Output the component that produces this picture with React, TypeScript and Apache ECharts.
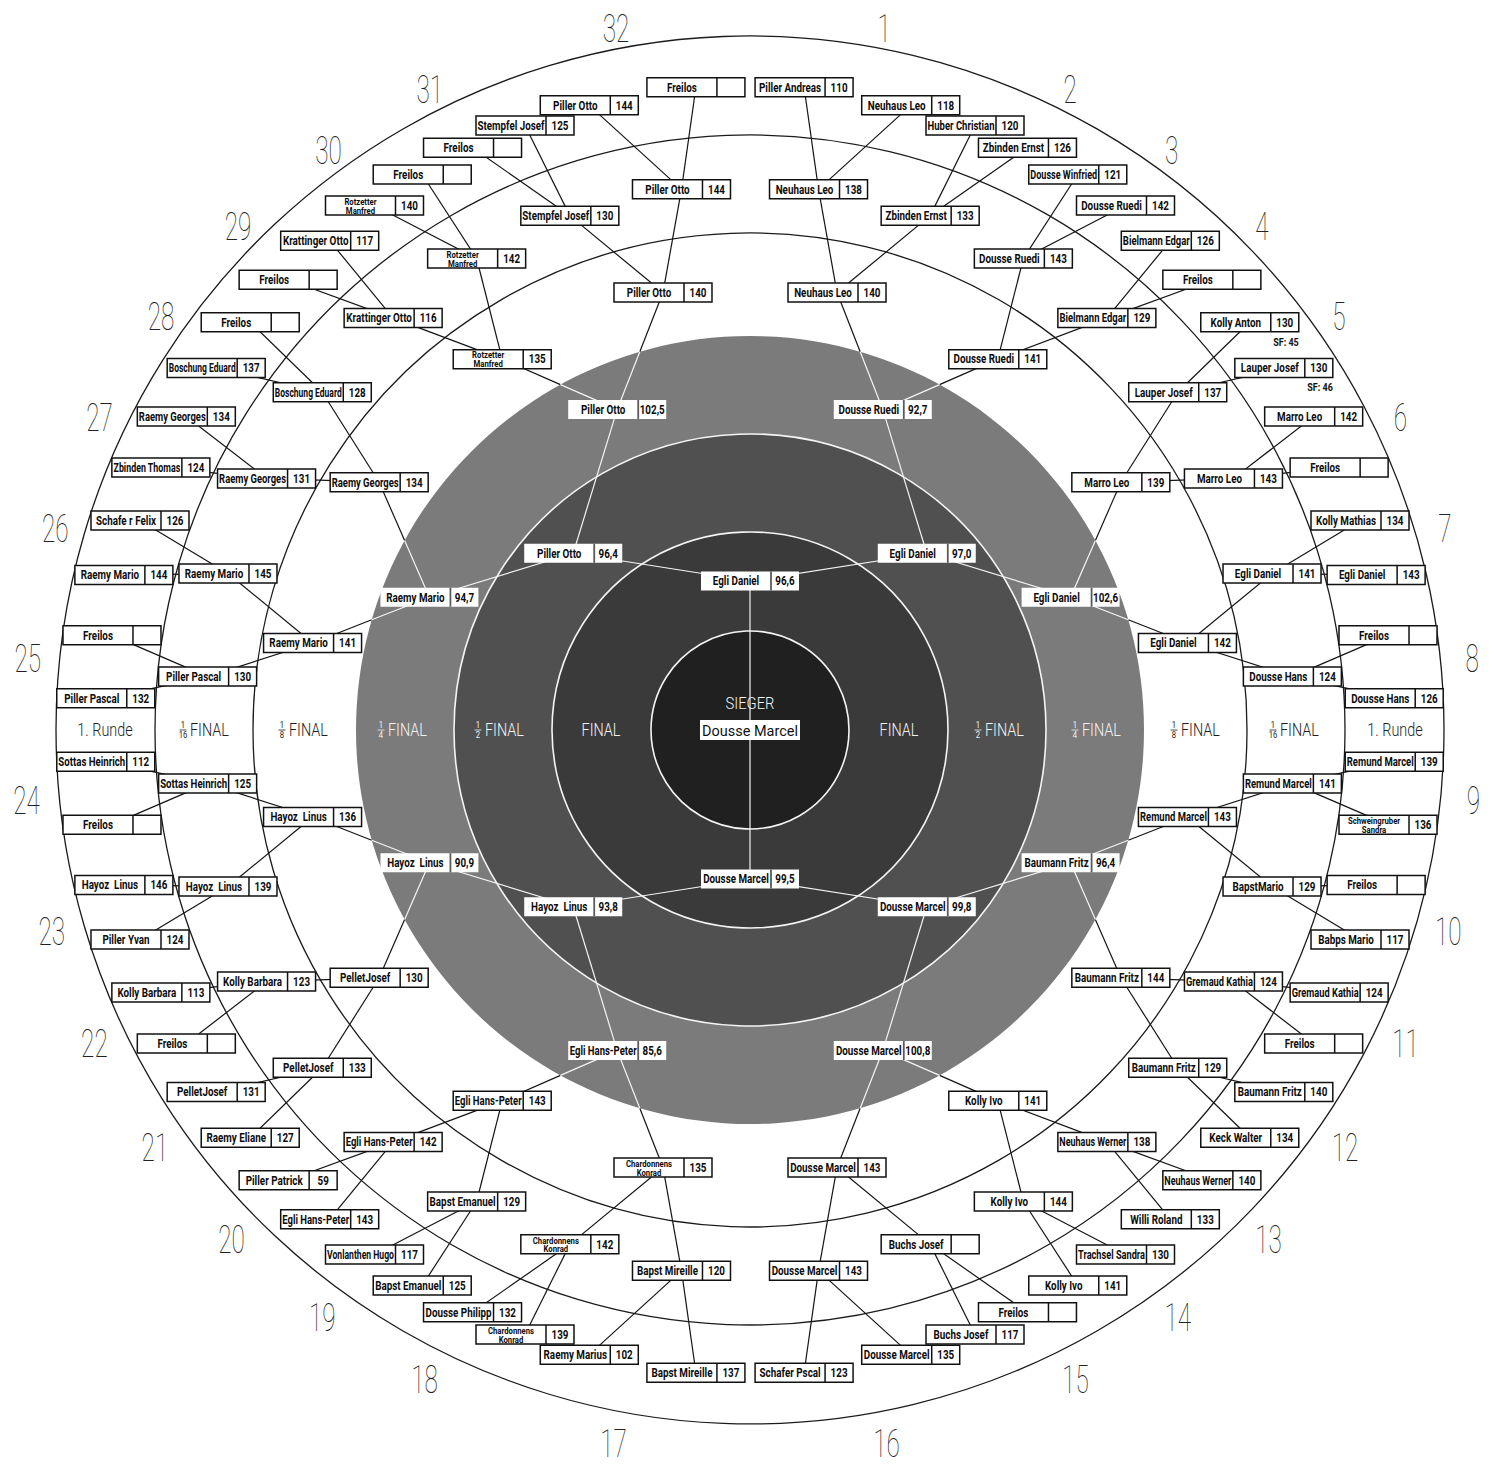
import React, { useEffect, useRef } from 'react';
import * as echarts from 'echarts';

// ---------------- DATA (bracket order: clockwise, starting at 9 o'clock) ----------------
const R1_NAMES = [
  'Piller Pascal', 'Freilos', 'Raemy Mario', 'Schafe r Felix', 'Zbinden Thomas', 'Raemy Georges', 'Boschung Eduard', 'Freilos',
  'Freilos', 'Krattinger Otto', 'Rotzetter\nManfred', 'Freilos', 'Freilos', 'Stempfel Josef', 'Piller Otto', 'Freilos',
  'Piller Andreas', 'Neuhaus Leo', 'Huber Christian', 'Zbinden Ernst', 'Dousse Winfried', 'Dousse Ruedi', 'Bielmann Edgar', 'Freilos',
  'Kolly Anton', 'Lauper Josef', 'Marro Leo', 'Freilos', 'Kolly Mathias', 'Egli Daniel', 'Freilos', 'Dousse Hans',
  'Remund Marcel', 'Schweingruber\nSandra', 'Freilos', 'Babps Mario', 'Gremaud Kathia', 'Freilos', 'Baumann Fritz', 'Keck Walter',
  'Neuhaus Werner', 'Willi Roland', 'Trachsel Sandra', 'Kolly Ivo', 'Freilos', 'Buchs Josef', 'Dousse Marcel', 'Schafer Pscal',
  'Bapst Mireille', 'Raemy Marius', 'Chardonnens\nKonrad', 'Dousse Philipp', 'Bapst Emanuel', 'Vonlanthen Hugo', 'Egli Hans-Peter', 'Piller Patrick',
  'Raemy Eliane', 'PelletJosef', 'Freilos', 'Kolly Barbara', 'Piller Yvan', 'Hayoz  Linus', 'Freilos', 'Sottas Heinrich',
];
const R1_SCORES = [
  '132', '', '144', '126', '124', '134', '137', '',
  '', '117', '140', '', '', '125', '144', '',
  '110', '118', '120', '126', '121', '142', '126', '',
  '130', '130', '142', '', '134', '143', '', '126',
  '139', '136', '', '117', '124', '', '140', '134',
  '140', '133', '130', '141', '', '117', '135', '123',
  '137', '102', '139', '132', '125', '117', '143', '59',
  '127', '131', '', '113', '124', '146', '', '112',
];
const R1_NOTES: Record<number, string> = { 24: 'SF: 45', 25: 'SF: 46' };

const R16_NAMES = [
  'Piller Pascal', 'Raemy Mario', 'Raemy Georges', 'Boschung Eduard', 'Krattinger Otto', 'Rotzetter\nManfred', 'Stempfel Josef', 'Piller Otto',
  'Neuhaus Leo', 'Zbinden Ernst', 'Dousse Ruedi', 'Bielmann Edgar', 'Lauper Josef', 'Marro Leo', 'Egli Daniel', 'Dousse Hans',
  'Remund Marcel', 'BapstMario', 'Gremaud Kathia', 'Baumann Fritz', 'Neuhaus Werner', 'Kolly Ivo', 'Buchs Josef', 'Dousse Marcel',
  'Bapst Mireille', 'Chardonnens\nKonrad', 'Bapst Emanuel', 'Egli Hans-Peter', 'PelletJosef', 'Kolly Barbara', 'Hayoz  Linus', 'Sottas Heinrich',
];
const R16_SCORES = [
  '130', '145', '131', '128', '116', '142', '130', '144',
  '138', '133', '143', '129', '137', '143', '141', '124',
  '141', '129', '124', '129', '138', '144', '', '143',
  '120', '142', '129', '142', '133', '123', '139', '125',
];

const R8_NAMES = [
  'Raemy Mario', 'Raemy Georges', 'Rotzetter\nManfred', 'Piller Otto', 'Neuhaus Leo', 'Dousse Ruedi', 'Marro Leo', 'Egli Daniel',
  'Remund Marcel', 'Baumann Fritz', 'Kolly Ivo', 'Dousse Marcel', 'Chardonnens\nKonrad', 'Egli Hans-Peter', 'PelletJosef', 'Hayoz  Linus',
];
const R8_SCORES = ['141', '134', '135', '140', '140', '141', '139', '142', '143', '144', '141', '143', '135', '143', '130', '136'];

const QF_NAMES = ['Raemy Mario', 'Piller Otto', 'Dousse Ruedi', 'Egli Daniel', 'Baumann Fritz', 'Dousse Marcel', 'Egli Hans-Peter', 'Hayoz  Linus'];
const QF_SCORES = ['94,7', '102,5', '92,7', '102,6', '96,4', '100,8', '85,6', '90,9'];

const SF_NAMES = ['Piller Otto', 'Egli Daniel', 'Dousse Marcel', 'Hayoz  Linus'];
const SF_SCORES = ['96,4', '97,0', '99,8', '93,8'];

const F_NAMES = ['Egli Daniel', 'Dousse Marcel'];
const F_SCORES = ['96,6', '99,5'];

const WINNER_NAME = 'Dousse Marcel';
const WINNER_TITLE = 'SIEGER';

const MATCH_NUMBERS = [
  '1', '2', '3', '4', '5', '6', '7', '8', '9', '10', '11', '12', '13', '14', '15', '16',
  '17', '18', '19', '20', '21', '22', '23', '24', '25', '26', '27', '28', '29', '30', '31', '32',
];
const RING_LABELS = ['1. Runde', '1/16 FINAL', '1/8 FINAL', '1/4 FINAL', '1/2 FINAL', 'FINAL'];

// ---------------- LAYOUT ----------------
const CENTER = [750, 730];
const OUTER_R = 694;
const LEVEL_RADII = [645, 545, 446, 347, 250, 149, 0];
const LEVEL_WARP = [1, 0.4, 0, 0, 0, 0, 0];
const NUMBER_WARP = 1.6;
const NUMBER_WARP_POLE = 1.3;
const ZONE_EDGE = 394;
const ZONES = [
  { r: 394, fill: '#7b7b7b' },
  { r: 296, fill: '#505050', stroke: '#f4f4f4' },
  { r: 198, fill: '#3a3a3a', stroke: '#f4f4f4' },
  { r: 99, fill: '#202020', stroke: '#f4f4f4' },
];
const OUTLINES = [497, 595, 694];
const BOX_W = 98;
const BOX_H = 19;
const NAME_W = 70;
const FONT = 'Roboto';

function warpOffset(phi: number) {
  return phi < 9.6 ? 0.71 * phi : Math.max(0, 6.8 * (1 - (phi - 9.6) / 68));
}
function warpAngle(theta: number, k: number) {
  const t = ((theta % 360) + 360) % 360;
  const u = t % 180;
  const d = u <= 90 ? warpOffset(u) : -warpOffset(180 - u);
  return t + k * d;
}
function slotAngle(i: number, n: number) {
  return (270 + ((i + 0.5) * 360) / n) % 360;
}
function numberRadius(angle: number) {
  return 727 - 13 * Math.max(0, Math.cos((angle * Math.PI) / 180));
}

const LEVEL_NAMES = [R1_NAMES, R16_NAMES, R8_NAMES, QF_NAMES, SF_NAMES, F_NAMES, [WINNER_NAME]];
const LEVEL_SCORES = [R1_SCORES, R16_SCORES, R8_SCORES, QF_SCORES, SF_SCORES, F_SCORES, ['']];

type Entry = { level: number; idx: number; r: number; angle: number; name: string; score: string; note: string };
const ENTRIES: Entry[] = [];
const POS: { r: number; angle: number }[][] = [];
LEVEL_NAMES.forEach((names, level) => {
  const n = names.length;
  POS[level] = [];
  names.forEach((name, i) => {
    const angle = n === 1 ? 0 : warpAngle(slotAngle(i, n), LEVEL_WARP[level]);
    const r = LEVEL_RADII[level];
    POS[level][i] = { r, angle };
    ENTRIES.push({ level, idx: i, r, angle, name, score: LEVEL_SCORES[level][i], note: level === 0 ? R1_NOTES[i] || '' : '' });
  });
});

const LINKS: number[][] = [];
for (let level = 1; level < LEVEL_NAMES.length; level++) {
  POS[level].forEach((p, i) => {
    [2 * i, 2 * i + 1].forEach((c) => {
      const ch = POS[level - 1][c];
      LINKS.push([ch.r, ch.angle, p.r, p.angle]);
    });
  });
}

type Label = { kind: string; text: string; r: number; angle: number };
const LABELS: Label[] = [];
MATCH_NUMBERS.forEach((t, k) => {
  const n = k + 1;
  const m = (n + 7) % 32;
  const base = slotAngle(m, 32);
  const u = base % 180;
  const phi = u <= 90 ? u : 180 - u;
  const angle = warpAngle(base, phi < 8 ? NUMBER_WARP_POLE : NUMBER_WARP);
  LABELS.push({ kind: 'num', text: t, r: numberRadius(angle), angle });
});
RING_LABELS.forEach((t, level) => {
  LABELS.push({ kind: 'ring', text: t, r: LEVEL_RADII[level], angle: 270 });
  LABELS.push({ kind: 'ring', text: t, r: LEVEL_RADII[level], angle: 90 });
});

// ---------------- HELPERS ----------------
let measureCtx: CanvasRenderingContext2D | null = null;
function measure(text: string, font: string) {
  if (!measureCtx) measureCtx = document.createElement('canvas').getContext('2d');
  if (!measureCtx) return text.length * 6;
  measureCtx.font = font;
  return measureCtx.measureText(text).width;
}
function fitScale(text: string, size: number, weight: string, avail: number, base: number) {
  const w = Math.max(...text.split('\n').map((l) => measure(l, `${weight} ${size}px ${FONT}`)), 1);
  return Math.min(base, avail / w);
}
function txt(x: number, y: number, text: string, size: number, weight: any, fill: string, scaleX = 1, align = 'center', lineHeight?: number) {
  return {
    type: 'text',
    x,
    y,
    scaleX,
    style: {
      text,
      x: 0,
      y: 0,
      fill,
      fontSize: size,
      fontFamily: FONT,
      fontWeight: weight,
      textAlign: align,
      textVerticalAlign: 'middle',
      lineHeight: lineHeight || size * 1.15,
    },
  };
}

function buildOption() {
  const ringSeries = {
    type: 'custom',
    coordinateSystem: 'polar',
    z: 1,
    silent: true,
    data: [[0, 0]],
    encode: { radius: 0, angle: 1 },
    renderItem: (params: any, api: any) => {
      const c = api.coord([0, 0]);
      const px = (r: number) => {
        const p = api.coord([r, 90]);
        return Math.hypot(p[0] - c[0], p[1] - c[1]);
      };
      const children: any[] = [];
      ZONES.forEach((z) =>
        children.push({
          type: 'circle',
          shape: { cx: c[0], cy: c[1], r: px(z.r) },
          style: z.stroke ? { fill: z.fill, stroke: z.stroke, lineWidth: 1.6 } : { fill: z.fill },
        })
      );
      OUTLINES.forEach((r) =>
        children.push({
          type: 'circle',
          shape: { cx: c[0], cy: c[1], r: px(r) },
          style: { fill: 'none', stroke: '#1b1b1b', lineWidth: 1.3 },
        })
      );
      return { type: 'group', children };
    },
  };

  const linkSeries = {
    type: 'custom',
    coordinateSystem: 'polar',
    z: 2,
    silent: true,
    data: LINKS,
    encode: { radius: 0, angle: 1 },
    renderItem: (params: any, api: any) => {
      const c = api.coord([0, 0]);
      const e = api.coord([ZONE_EDGE, 90]);
      const R = Math.hypot(e[0] - c[0], e[1] - c[1]);
      const p1 = api.coord([api.value(0), api.value(1)]);
      const p2 = api.coord([api.value(2), api.value(3)]);
      const dx = p2[0] - p1[0];
      const dy = p2[1] - p1[1];
      const fx = p1[0] - c[0];
      const fy = p1[1] - c[1];
      const a = dx * dx + dy * dy;
      const b = 2 * (fx * dx + fy * dy);
      const cc = fx * fx + fy * fy - R * R;
      const ts = [0, 1];
      const disc = b * b - 4 * a * cc;
      if (a > 0 && disc > 0) {
        const s = Math.sqrt(disc);
        [(-b - s) / (2 * a), (-b + s) / (2 * a)].forEach((t) => {
          if (t > 0 && t < 1) ts.push(t);
        });
      }
      ts.sort((x, y) => x - y);
      const children: any[] = [];
      for (let k = 0; k < ts.length - 1; k++) {
        const t0 = ts[k];
        const t1 = ts[k + 1];
        const tm = (t0 + t1) / 2;
        const inside = Math.hypot(fx + tm * dx, fy + tm * dy) < R;
        children.push({
          type: 'line',
          shape: { x1: p1[0] + t0 * dx, y1: p1[1] + t0 * dy, x2: p1[0] + t1 * dx, y2: p1[1] + t1 * dy },
          style: { stroke: inside ? '#f4f4f4' : '#141414', lineWidth: 1.2 },
        });
      }
      return { type: 'group', children };
    },
  };

  const boxSeries = {
    type: 'custom',
    coordinateSystem: 'polar',
    z: 3,
    silent: true,
    data: ENTRIES.map((en) => [en.r, en.angle]),
    encode: { radius: 0, angle: 1 },
    renderItem: (params: any, api: any) => {
      const en = ENTRIES[params.dataIndex];
      const p = api.coord([api.value(0), api.value(1)]);
      const x = p[0];
      const y = p[1];
      const children: any[] = [];
      if (en.level === 6) {
        children.push({ type: 'rect', shape: { x: x - 50, y: y - 10, width: 100, height: 20 }, style: { fill: '#fff' } });
        children.push(txt(x, y + 0.5, en.name, 15, 400, '#111', fitScale(en.name, 15, 'normal', 96, 1)));
        children.push(txt(x, y - 27, WINNER_TITLE, 17, 300, '#f2f2f2', 0.87));
        return { type: 'group', children };
      }
      const inner = en.r < ZONE_EDGE;
      const left = x - BOX_W / 2;
      const top = y - BOX_H / 2;
      children.push({
        type: 'rect',
        shape: { x: left, y: top, width: BOX_W, height: BOX_H },
        style: inner ? { fill: '#fff' } : { fill: '#fff', stroke: '#111', lineWidth: 1.5 },
      });
      children.push({
        type: 'line',
        shape: { x1: left + NAME_W, y1: top, x2: left + NAME_W, y2: top + BOX_H },
        style: { stroke: inner ? '#5a5a5a' : '#111', lineWidth: inner ? 1.8 : 1.5 },
      });
      const twoLine = en.name.indexOf('\n') >= 0;
      const nameSize = twoLine ? 9 : 12;
      children.push(
        txt(left + NAME_W / 2, y + 0.5, en.name, nameSize, 'bold', '#0c0c0c', fitScale(en.name, nameSize, 'bold', NAME_W - 3, twoLine ? 0.86 : 0.82), 'center', twoLine ? 8.8 : undefined)
      );
      if (en.score) {
        const sw = BOX_W - NAME_W;
        children.push(txt(left + NAME_W + sw / 2, y + 0.5, en.score, 12, 'bold', '#0c0c0c', fitScale(en.score, 12, 'bold', sw - 3, 0.82)));
      }
      if (en.note) {
        children.push(txt(left + BOX_W, top + BOX_H + 10, en.note, 11, 'bold', '#111', 0.82, 'right'));
      }
      return { type: 'group', children };
    },
  };

  const labelSeries = {
    type: 'custom',
    coordinateSystem: 'polar',
    z: 4,
    silent: true,
    data: LABELS.map((l) => [l.r, l.angle]),
    encode: { radius: 0, angle: 1 },
    renderItem: (params: any, api: any) => {
      const l = LABELS[params.dataIndex];
      const p = api.coord([api.value(0), api.value(1)]);
      const x = p[0];
      const y = p[1];
      if (l.kind === 'num') {
        return txt(x, y, l.text, 38, 100, '#222', 0.64, 'center', 38);
      }
      const color = l.r < ZONE_EDGE ? '#f2f2f2' : '#1e1e1e';
      const m = /^1\/(\d+) (.*)$/.exec(l.text);
      if (!m) {
        return txt(x, y, l.text, 18, 300, color, 0.8);
      }
      const fx = x - 22;
      return {
        type: 'group',
        children: [
          txt(fx, y - 5, '1', 8.5, 400, color, 0.9),
          { type: 'line', shape: { x1: fx - 3.5, y1: y, x2: fx + 3.5, y2: y }, style: { stroke: color, lineWidth: 0.8 } },
          txt(fx, y + 5.5, m[1], 8.5, 400, color, 0.9),
          txt(x - 15, y, m[2], 18, 300, color, 0.8, 'left'),
        ],
      };
    },
  };

  return {
    animation: false,
    backgroundColor: '#ffffff',
    polar: { center: CENTER, radius: OUTER_R },
    angleAxis: { type: 'value', min: 0, max: 360, startAngle: 90, clockwise: true, show: false },
    radiusAxis: { type: 'value', min: 0, max: OUTER_R, show: false },
    series: [ringSeries, linkSeries, boxSeries, labelSeries],
  };
}

export default function App() {
  const ref = useRef<HTMLDivElement>(null);
  useEffect(() => {
    if (!ref.current) return;
    const chart = echarts.init(ref.current, undefined, { renderer: 'svg' });
    chart.setOption(buildOption() as any);
    return () => chart.dispose();
  }, []);
  return (
    <div
      ref={ref}
      style={{ position: 'absolute', left: 0, top: 0, width: 1500, height: 1470, background: '#ffffff' }}
    />
  );
}
